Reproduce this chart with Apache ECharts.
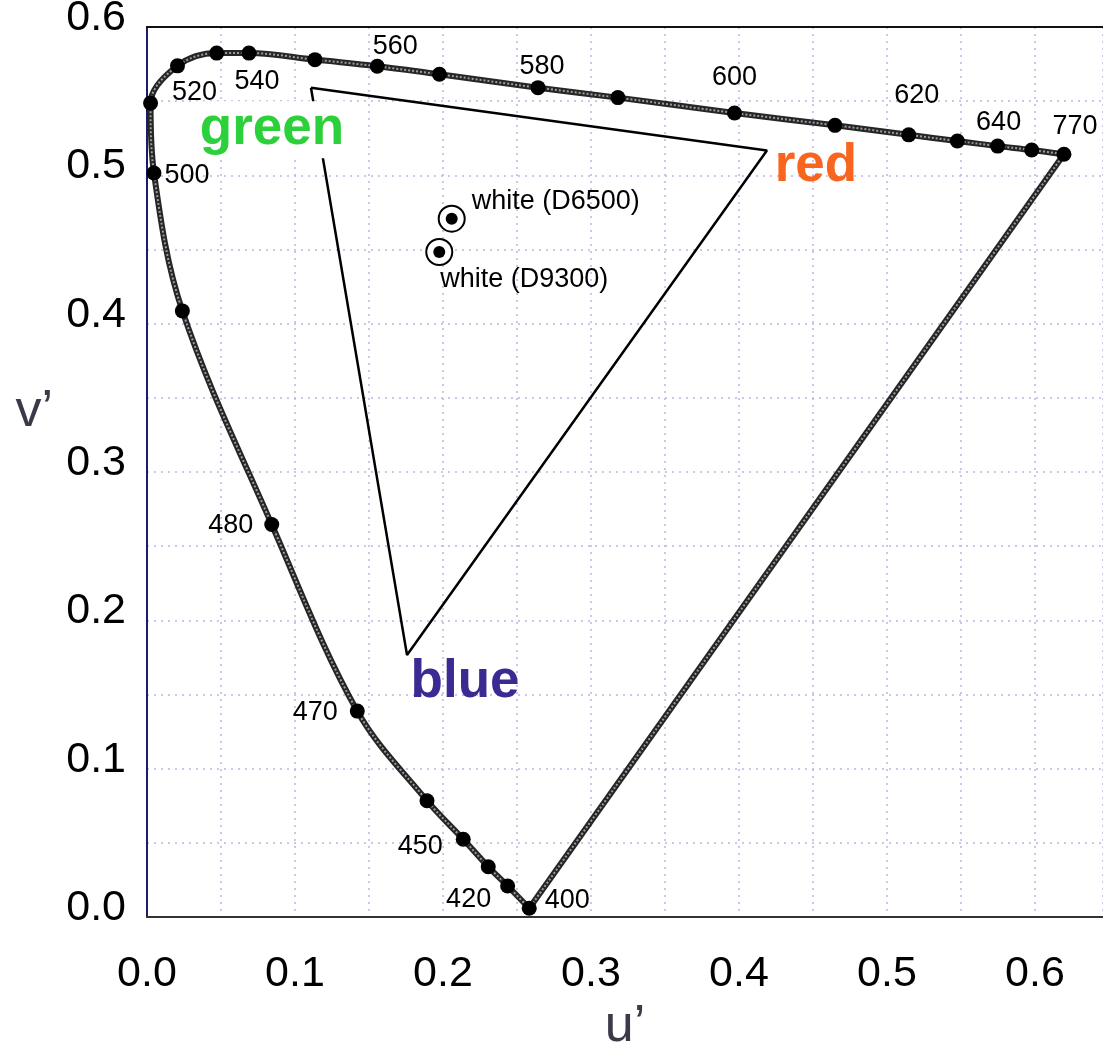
<!DOCTYPE html>
<html><head><meta charset="utf-8">
<script src="https://cdn.jsdelivr.net/npm/echarts@6/dist/echarts.min.js"></script>
<style>html,body{margin:0;padding:0;background:#fff}#c{width:1103px;height:1050px}</style>
</head><body><div id="c"></div>
<script>
// ---- data (CIE 1976 u', v') ----
const locusU = [0.2583,0.2437,0.2306,0.2137,0.1892,0.1421,0.0843,0.0239,0.0047,0.0024,0.0206,0.0471,0.0689,0.1135,0.1556,0.1976,0.2642,0.3182,0.3970,0.4649,0.5147,0.5476,0.5748,0.5978,0.6196];
const locusV = [0.0059,0.0209,0.0339,0.0524,0.0784,0.1388,0.2646,0.4086,0.5016,0.5487,0.5738,0.5824,0.5824,0.5780,0.5735,0.5681,0.5591,0.5524,0.5420,0.5337,0.5273,0.5231,0.5197,0.5171,0.5142];
const locusLabels = ['400','420','','450','','470','480','','500','','520','','540','','560','','580','','600','','620','','640','','770'];
const gamutNames = ['green','red','blue'];
const gamutU = [0.1108,0.4189,0.1757];
const gamutV = [0.5591,0.5168,0.1766];
const whiteNames = ['white (D6500)','white (D9300)'];
const whiteU = [0.2059,0.1975];
const whiteV = [0.4708,0.4483];
const xTickLabels = ['0.0','0.1','0.2','0.3','0.4','0.5','0.6'];
const yTickLabels = ['0.0','0.1','0.2','0.3','0.4','0.5','0.6'];
const xName = 'u\u2019';
const yName = 'v\u2019';

// ---- styling ----
const FONT = '"Liberation Sans", Arial, Helvetica, sans-serif';
const waveOffset = {
  '400':[38,-8],'420':[-39,14],'450':[-43,7],'470':[-42,1],'480':[-41,1],'500':[33,3],
  '520':[17,27],'540':[8,28],'560':[18,-20],'580':[4,-21],'600':[0,-35],'620':[8,-39],
  '640':[1,-24],'770':[11,-28]
};
const gamutStyle = {
  green:{color:'#2cd03a',offset:[-39,42],bg:'#ffffff'},
  red:{color:'#f7651f',offset:[49,16],bg:'transparent'},
  blue:{color:'#3a2a92',offset:[58,27],bg:'transparent'}
};
const whiteOffset = [[20,-17],[1,28]];

function tickFmt(labels){
  return function(v){
    const k = Math.round(v*10);
    return Math.abs(v*10-k) < 1e-6 && labels[k] !== undefined ? labels[k] : '';
  };
}

const locusPts = locusU.map((u,i)=>[u, locusV[i]]);
const purplePts = [locusPts[locusPts.length-1], locusPts[0]];
const gamutPts = gamutU.map((u,i)=>[u, gamutV[i]]);
const gamutClosed = gamutPts.concat([gamutPts[0]]);

const ropeDark = {color:'#262626', width:6};
const ropeLight = {color:'#9c9c9c', width:2, type:[2,2]};

const chart = echarts.init(document.getElementById('c'), null, {renderer:'canvas'});
chart.setOption({
  animation:false,
  backgroundColor:'#ffffff',
  grid:{left:147, top:27, right:0, bottom:133, containLabel:false, outerBoundsMode:'none'},
  xAxis:[{
    type:'value', min:0, max:0.646, interval:0.05,
    name:xName, nameLocation:'middle', nameGap:84,
    nameTextStyle:{fontFamily:FONT, fontSize:52, color:'#3a3a48'},
    axisLine:{show:true, onZero:false, lineStyle:{color:'#333', width:2}},
    axisTick:{show:false},
    axisLabel:{fontFamily:FONT, fontSize:43, color:'#000', margin:36, formatter:tickFmt(xTickLabels), showMaxLabel:false},
    splitLine:{show:true, lineStyle:{color:'#c3b0e4', width:1.5, type:[2,5]}}
  },{
    type:'value', min:0, max:0.646, position:'top',
    axisLine:{show:true, onZero:false, lineStyle:{color:'#111', width:2}},
    axisTick:{show:false}, axisLabel:{show:false}, splitLine:{show:false}
  }],
  yAxis:{
    type:'value', min:0, max:0.6, interval:0.05,
    name:yName, nameLocation:'middle', nameRotate:0, nameGap:94,
    nameTextStyle:{fontFamily:FONT, fontSize:52, color:'#3a3a48', verticalAlign:'bottom', lineHeight:120},
    axisLine:{show:true, onZero:false, lineStyle:{color:'#1c1c6a', width:2}},
    axisTick:{show:false},
    axisLabel:{fontFamily:FONT, fontSize:43, color:'#000', margin:21, verticalAlign:'bottom', lineHeight:18, formatter:tickFmt(yTickLabels)},
    splitLine:{show:true, lineStyle:{color:'#c3b0e4', width:1.5, type:[2,5]}}
  },
  series:[
    {type:'line', data:locusPts, smooth:0.35, showSymbol:false, symbol:'none', lineStyle:ropeDark, z:3, silent:true},
    {type:'line', data:locusPts, smooth:0.35, showSymbol:false, symbol:'none', lineStyle:ropeLight, z:4, silent:true},
    {type:'line', data:purplePts, showSymbol:false, symbol:'none', lineStyle:ropeDark, z:3, silent:true},
    {type:'line', data:purplePts, showSymbol:false, symbol:'none', lineStyle:ropeLight, z:4, silent:true},
    {type:'line', data:gamutClosed, showSymbol:false, symbol:'none', lineStyle:{color:'#000', width:2.5}, z:5, silent:true},
    {type:'scatter', z:6, symbol:'circle', symbolSize:15, itemStyle:{color:'#000', opacity:1},
      data:locusPts.map((p,i)=>({
        value:p,
        label:{show:!!locusLabels[i], formatter:locusLabels[i], position:'inside',
          offset:waveOffset[locusLabels[i]]||[0,0], fontFamily:FONT, fontSize:27, color:'#000'}
      }))
    },
    {type:'scatter', z:7, symbol:'circle', symbolSize:1, itemStyle:{color:'rgba(0,0,0,0)', opacity:1},
      data:gamutPts.map((p,i)=>({
        value:p,
        label:{show:true, formatter:gamutNames[i], position:'inside',
          offset:gamutStyle[gamutNames[i]].offset, fontFamily:FONT, fontWeight:'bold', fontSize:53,
          color:gamutStyle[gamutNames[i]].color, backgroundColor:gamutStyle[gamutNames[i]].bg, padding:[2,4]}
      }))
    },
    {type:'scatter', z:8, symbol:'circle', symbolSize:26,
      itemStyle:{color:'#fff', borderColor:'#000', borderWidth:2, opacity:1},
      data:whiteU.map((u,i)=>({
        value:[u, whiteV[i]],
        label:{show:true, formatter:whiteNames[i], position:'inside', align:'left',
          offset:whiteOffset[i], fontFamily:FONT, fontSize:27, color:'#000'}
      }))
    },
    {type:'scatter', z:9, symbol:'circle', symbolSize:12, itemStyle:{color:'#000', opacity:1},
      data:whiteU.map((u,i)=>[u, whiteV[i]])}
  ]
});
</script></body></html>
